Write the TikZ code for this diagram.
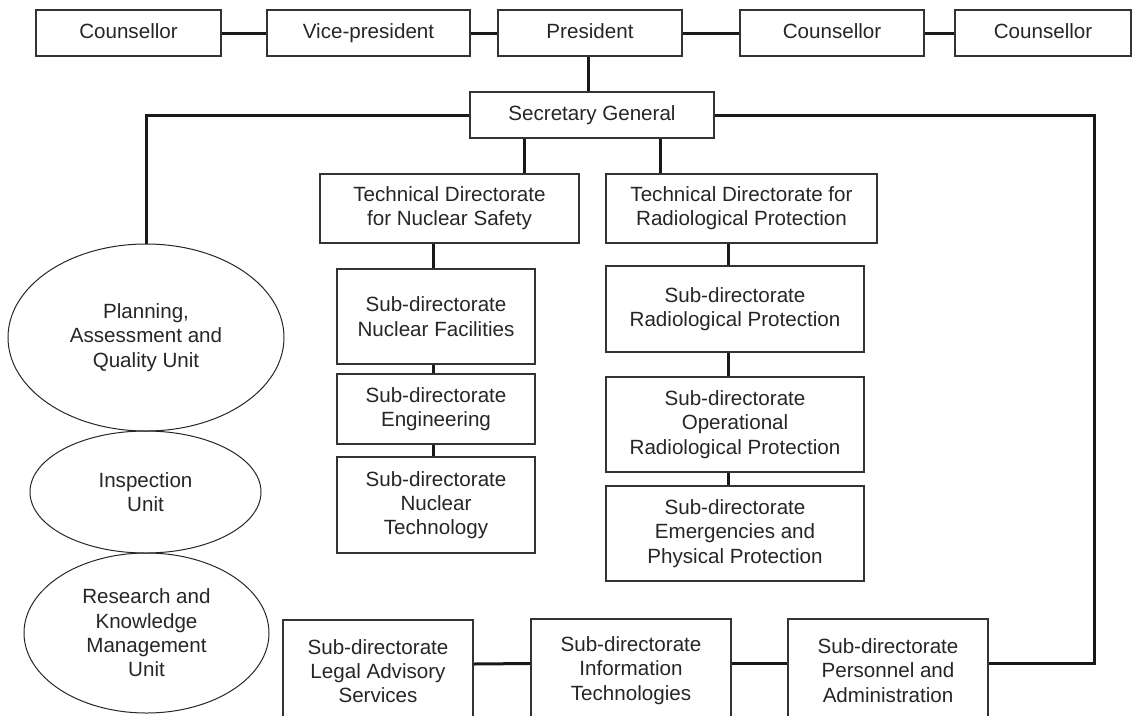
\documentclass[tikz,border=0pt]{standalone}
\usepackage{fontspec}
\setmainfont{Liberation Sans}
\usetikzlibrary{shapes.geometric}
\begin{document}
\begin{tikzpicture}[x=1pt,y=-1pt,
  every node/.style={font=\fontsize{20.6}{24.3}\selectfont, text=black!85},
  box/.style={draw=black!80, line width=1.5pt, align=center, inner sep=0pt},
  head/.style={box, minimum height=46, text height=15pt, text depth=4pt},
  unit/.style={draw=black!85, ellipse, line width=1pt, align=center, inner sep=0pt},
  link/.style={draw=black!90, line width=3pt}]
\useasboundingbox (0,0) rectangle (1134,715);
% top row
\node[head, minimum width=185] (c1) at (128.5,33) {Counsellor};
\node[head, minimum width=203] (vp) at (368.5,33) {Vice-president};
\node[head, minimum width=184] (pres) at (590,33) {President};
\node[head, minimum width=184] (c2) at (832,33) {Counsellor};
\node[head, minimum width=176] (c3) at (1043,33) {Counsellor};
\node[head, minimum width=244] (sg) at (592,115) {Secretary General};
% directorates
\node[box, minimum width=259, minimum height=69] (tdns) at (449.5,208.5) {Technical Directorate\\for Nuclear Safety};
\node[box, minimum width=271, minimum height=69] (tdrp) at (741.5,208.5) {Technical Directorate for\\Radiological Protection};
\node[box, minimum width=198, minimum height=95] (sdnf) at (436,316.5) {Sub-directorate\\Nuclear Facilities};
\node[box, minimum width=198, minimum height=70] (sdeng) at (436,409) {Sub-directorate\\Engineering};
\node[box, minimum width=198, minimum height=96] (sdnt) at (436,505) {Sub-directorate\\Nuclear\\Technology};
\node[box, minimum width=258, minimum height=86] (sdrp) at (735,309) {Sub-directorate\\Radiological Protection};
\node[box, minimum width=258, minimum height=95] (sdorp) at (735,424.5) {Sub-directorate\\Operational\\Radiological Protection};
\node[box, minimum width=258, minimum height=95] (sdepp) at (735,533.5) {Sub-directorate\\Emergencies and\\Physical Protection};
% bottom row
\node[box, minimum width=190, minimum height=102] (legal) at (378,671) {Sub-directorate\\Legal Advisory\\Services};
\node[box, minimum width=200, minimum height=103] (info) at (631,670.5) {Sub-directorate\\Information\\Technologies};
\node[box, minimum width=200, minimum height=103] (pers) at (888,670.5) {Sub-directorate\\Personnel and\\Administration};
% units
\node[unit, minimum width=276, minimum height=187] (plan) at (146,337.5) {Planning,\\Assessment and\\Quality Unit};
\node[unit, minimum width=231, minimum height=122] (insp) at (145.5,492) {Inspection\\Unit};
\node[unit, minimum width=245, minimum height=160] (res) at (146.5,633) {Research and\\Knowledge\\Management\\Unit};
\coordinate (turn) at (1094,663);
\path[link] (c1) -- (vp);
\path[link] (vp) -- (pres);
\path[link] (pres) -- (c2);
\path[link] (c2) -- (c3);
\path[link] ([xshift=-2pt]pres.south) -- ([xshift=-2pt]pres.south |- sg.north);
\path[link] (sg.west) -| (plan.north);
\path[link] (sg.east) -| (turn) -- (turn -| pers.east);
\path[link] ([xshift=-68pt]sg.south) -- ([xshift=-68pt]sg.south |- tdns.north);
\path[link] ([xshift=68pt]sg.south) -- ([xshift=68pt]sg.south |- tdrp.north);
\path[link] ([xshift=-3pt]sdnf.north) -- ([xshift=-3pt]sdnf.north |- tdns.south);
\path[link] ([xshift=-3pt]sdnf.south) -- ([xshift=-3pt]sdeng.north);
\path[link] ([xshift=-3pt]sdeng.south) -- ([xshift=-3pt]sdnt.north);
\path[link] ([xshift=-7pt]sdrp.north) -- ([xshift=-7pt]sdrp.north |- tdrp.south);
\path[link] ([xshift=-7pt]sdrp.south) -- ([xshift=-7pt]sdorp.north);
\path[link] ([xshift=-7pt]sdorp.south) -- ([xshift=-7pt]sdepp.north);
\path[link] ([yshift=7pt]legal.east) -- ([yshift=7pt]info.west);
\path[link] ([yshift=7pt]info.east) -- ([yshift=7pt]pers.west);
\end{tikzpicture}
\end{document}
